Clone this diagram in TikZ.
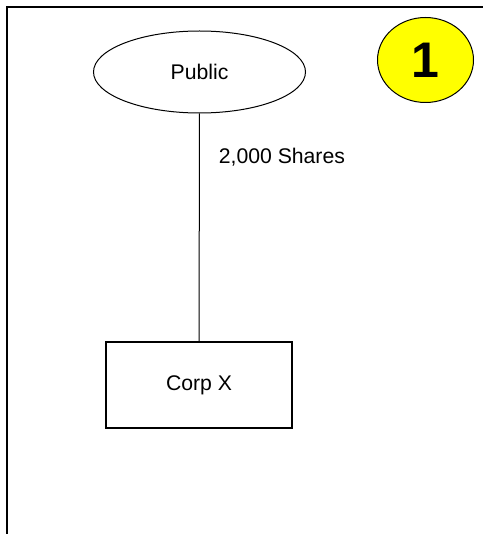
\documentclass[tikz,border=0pt]{standalone}
\usepackage{fontspec}
\setmainfont{Liberation Sans}
\usetikzlibrary{shapes.geometric}
\definecolor{badgeyellow}{RGB}{255,255,0}
\begin{document}
\begin{tikzpicture}[x=1pt,y=-1pt,font=\fontsize{21.2}{25}\selectfont]
\useasboundingbox (0,0) rectangle (483,534);
\draw[line width=2pt](7,534)--(7,7)--(483,7);
\node[draw,ellipse,line width=1pt,minimum width=212pt,minimum height=82pt,inner sep=0pt](public) at (199.5,72){Public};
\node[draw,ellipse,line width=1pt,fill=badgeyellow,minimum width=96pt,minimum height=85pt,inner sep=0pt](badge) at (425.5,60){\fontsize{50}{50}\selectfont\bfseries 1};
\node[draw,rectangle,line width=1.2pt,minimum width=186pt,minimum height=86pt,inner sep=0pt](corpx) at (199,385){Corp X};
\draw[line width=1pt](public)--(corpx)node[pos=.22,anchor=base west,inner sep=0pt,xshift=19pt]{2,000 Shares};
\end{tikzpicture}
\end{document}
